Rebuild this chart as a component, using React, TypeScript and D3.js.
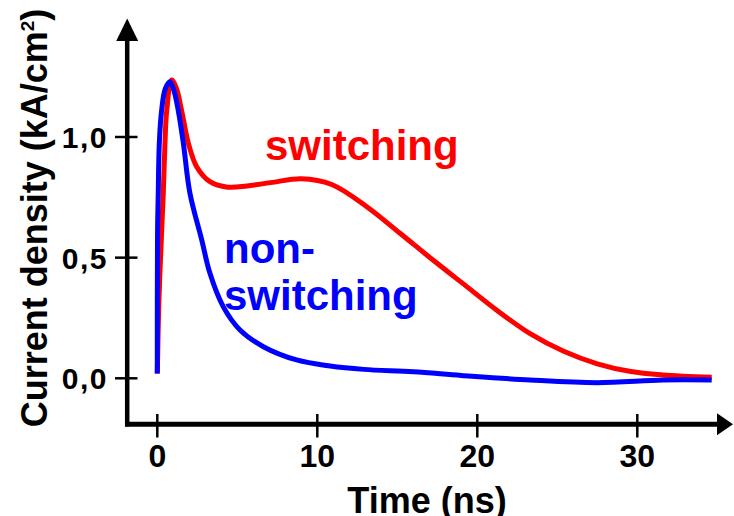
import React from "react";
import * as d3 from "d3";

// time (ns) and current density (kA/cm2)
const nonSwitchingTime = [0, 0.015, 0.06, 0.125, 0.27, 0.5, 0.79, 1.05, 1.31, 1.63, 2.04, 2.78, 3.29, 4.12, 5.17, 6.63, 8.71, 10.8, 12.9, 16.0, 19.0, 23.3, 27.5, 31.6, 34.65];
const nonSwitchingValue = [0.02, 0.6, 0.77, 0.974, 1.11, 1.2, 1.229, 1.19, 1.11, 0.974, 0.767, 0.573, 0.435, 0.297, 0.2, 0.131, 0.076, 0.051, 0.037, 0.027, 0.012, -0.007, -0.018, -0.007, -0.007];

const switchingTime = [0, 0.1, 0.275, 0.375, 0.48, 0.59, 0.9, 1.2, 1.52, 1.94, 2.46, 3.29, 4.4, 5.6, 7.2, 9.0, 10.9, 13.09, 15.17, 17.23, 19.34, 21.2, 23.3, 25.4, 27.5, 29.6, 31.6, 34.65];
const switchingValue = [0.02, 0.32, 0.615, 0.77, 0.974, 1.11, 1.236, 1.2, 1.11, 0.974, 0.877, 0.815, 0.792, 0.797, 0.812, 0.827, 0.803, 0.711, 0.601, 0.49, 0.38, 0.283, 0.185, 0.112, 0.06, 0.028, 0.014, 0.004];

const xTicks = [0, 10, 20, 30];
const yTicks = [0, 0.5, 1.0];
const yTickLabels = ["0,0", "0,5", "1,0"];

const FONT = "'Liberation Sans', Arial, sans-serif";

export default function App() {
  const width = 734, height = 516;

  const x = d3.scaleLinear().domain([0, 30]).range([157.3, 637.3]);
  const y = d3.scaleLinear().domain([0, 1]).range([378.3, 137]);

  const line = d3.line<[number, number]>()
    .x(d => x(d[0]))
    .y(d => y(d[1]))
    .curve(d3.curveCatmullRom.alpha(0.5));

  const redPath = line(switchingTime.map((t, i) => [t, switchingValue[i]]));
  const bluePath = line(nonSwitchingTime.map((t, i) => [t, nonSwitchingValue[i]]));

  const axisX = 127.2, axisY = 424.2;

  return (
    <svg width={width} height={height} style={{ position: "absolute", left: 0, top: 0, background: "#fff" }}>
      {/* y axis with arrow */}
      <line x1={axisX} y1={38} x2={axisX} y2={axisY + 2.3} stroke="#000" strokeWidth={4.5} />
      <path d={`M${axisX},18.5 L${axisX - 11},41 L${axisX + 11},41 Z`} fill="#000" />
      {/* x axis with arrow */}
      <line x1={axisX - 2.2} y1={axisY} x2={720} y2={axisY} stroke="#000" strokeWidth={5} />
      <path d={`M733,${axisY} L717,${axisY - 11} L717,${axisY + 11} Z`} fill="#000" />

      {yTicks.map((v, i) => (
        <g key={"y" + v}>
          <line x1={115} x2={137.5} y1={y(v)} y2={y(v)} stroke="#000" strokeWidth={2.5} />
          <text x={108} y={y(v) + 11} textAnchor="end" fontFamily={FONT} fontWeight="bold"
            fontSize={30} letterSpacing={1.5} fill="#000">{yTickLabels[i]}</text>
        </g>
      ))}
      {xTicks.map(t => (
        <g key={"x" + t}>
          <line x1={x(t)} x2={x(t)} y1={414} y2={437.5} stroke="#000" strokeWidth={2.5} />
          <text x={x(t)} y={466.5} textAnchor="middle" fontFamily={FONT} fontWeight="bold"
            fontSize={32} fill="#000">{t}</text>
        </g>
      ))}

      <text x={427} y={513} textAnchor="middle" fontFamily={FONT} fontWeight="bold" fontSize={36} fill="#000">Time (ns)</text>
      <text transform="translate(47,218) rotate(-90)" textAnchor="middle" fontFamily={FONT}
        fontWeight="bold" fontSize={36} fill="#000">
        Current density (kA/cm<tspan fontSize={19} dy={-13}>2</tspan><tspan dy={13}>)</tspan>
      </text>

      <path d={redPath ?? ""} fill="none" stroke="#ff0000" strokeWidth={5} />
      <path d={bluePath ?? ""} fill="none" stroke="#0000ff" strokeWidth={5} />

      <text x={265} y={160} fontFamily={FONT} fontWeight="bold" fontSize={42} fill="#ff0000">switching</text>
      <text x={224} y={263} fontFamily={FONT} fontWeight="bold" fontSize={42} fill="#0000ff">non-</text>
      <text x={224} y={310} fontFamily={FONT} fontWeight="bold" fontSize={42} fill="#0000ff">switching</text>
    </svg>
  );
}
